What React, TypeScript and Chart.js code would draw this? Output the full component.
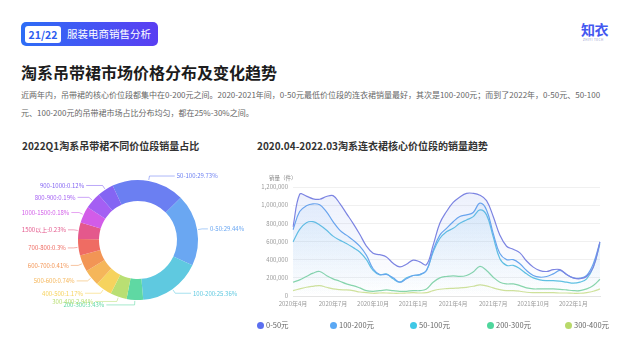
import React, { useEffect, useRef } from 'react';
import { Chart, registerables } from 'chart.js';
Chart.register(...registerables);

const FONT = "'Noto Sans CJK SC', 'Noto Sans', sans-serif";

// ---------- Donut data (2022Q1) ----------
const priceBands = ['50-100', '0-50', '100-200', '200-300', '300-400', '400-500', '500-600', '600-700', '700-800', '1500以上', '1000-1500', '800-900', '900-1000'];
const bandShares = [29.73, 29.44, 25.36, 3.43, 2.94, 1.17, 0.74, 0.41, 0.3, 0.23, 0.18, 0.19, 0.12];
const bandColors = ['#6b7ff2', '#6aa7f2', '#5fc9e0', '#5fd8a3', '#b9df73', '#f6d35e', '#f5b65a', '#f29555', '#ef6c63', '#e4588c', '#d25ce8', '#a45ff3', '#8465f3'];
const MIN_ANGLE = 16; // degrees, like a pie "minAngle" setting

// ---------- Line data (2020.04 - 2022.03, half-monthly) ----------
const categories = [
  '2020年4月', '2020年4月中', '2020年5月', '2020年5月中', '2020年6月', '2020年6月中', '2020年7月', '2020年7月中',
  '2020年8月', '2020年8月中', '2020年9月', '2020年9月中', '2020年10月', '2020年10月中', '2020年11月', '2020年11月中',
  '2020年12月', '2020年12月中', '2021年1月', '2021年1月中', '2021年2月', '2021年2月中', '2021年3月', '2021年3月中',
  '2021年4月', '2021年4月中', '2021年5月', '2021年5月中', '2021年6月', '2021年6月中', '2021年7月', '2021年7月中',
  '2021年8月', '2021年8月中', '2021年9月', '2021年9月中', '2021年10月', '2021年10月中', '2021年11月', '2021年11月中',
  '2021年12月', '2021年12月中', '2022年1月', '2022年1月中', '2022年2月', '2022年2月中', '2022年3月',
];
const tickLabels = ['2020年4月', '2020年7月', '2020年10月', '2021年1月', '2021年4月', '2021年7月', '2021年10月', '2022年1月'];

const sales0to50 = [760000, 1120000, 1100000, 1070000, 1065000, 1095000, 1105000, 1020000, 910000, 800000, 680000, 550000, 470000, 455000, 430000, 360000, 320000, 350000, 395000, 375000, 345000, 560000, 800000, 930000, 1030000, 1090000, 1130000, 1130000, 1110000, 1050000, 875000, 670000, 548000, 515000, 475000, 385000, 318000, 280000, 270000, 290000, 290000, 237000, 200000, 190000, 215000, 318000, 596000];
const sales100to200 = [730000, 930000, 993000, 1015000, 1004000, 930000, 818000, 726000, 670000, 615000, 548000, 448000, 300000, 237000, 237000, 200000, 152000, 189000, 226000, 237000, 281000, 504000, 670000, 745000, 818000, 875000, 893000, 920000, 1022000, 948000, 690000, 467000, 400000, 400000, 355000, 281000, 226000, 207000, 215000, 244000, 281000, 237000, 200000, 196000, 226000, 355000, 596000];
const sales50to100 = [596000, 733000, 807000, 818000, 781000, 726000, 659000, 615000, 578000, 533000, 485000, 400000, 281000, 233000, 244000, 189000, 152000, 200000, 226000, 233000, 281000, 485000, 633000, 707000, 745000, 800000, 837000, 874000, 948000, 893000, 652000, 411000, 337000, 337000, 300000, 244000, 200000, 178000, 170000, 170000, 163000, 152000, 141000, 152000, 189000, 318000, 578000];
const sales200to300 = [152000, 178000, 215000, 252000, 270000, 226000, 189000, 163000, 133000, 115000, 89000, 59000, 52000, 59000, 67000, 59000, 52000, 52000, 59000, 59000, 78000, 152000, 200000, 215000, 222000, 215000, 226000, 263000, 326000, 281000, 207000, 152000, 133000, 133000, 115000, 89000, 78000, 78000, 78000, 78000, 74000, 67000, 59000, 59000, 78000, 115000, 185000];
const sales300to400 = [59000, 78000, 96000, 107000, 115000, 96000, 78000, 70000, 67000, 59000, 44000, 37000, 30000, 33000, 33000, 30000, 30000, 33000, 37000, 33000, 37000, 59000, 74000, 81000, 85000, 89000, 96000, 107000, 122000, 111000, 89000, 70000, 59000, 59000, 52000, 41000, 37000, 37000, 37000, 37000, 33000, 33000, 30000, 30000, 37000, 52000, 78000];

const seriesNames = ['0-50元', '100-200元', '50-100元', '200-300元', '300-400元'];
const seriesData = [sales0to50, sales100to200, sales50to100, sales200to300, sales300to400];
const lineColors = ['#7c84e2', '#68a6ee', '#5fc2e2', '#88d6aa', '#d0e29a'];
const fillRGB = ['110,140,235', '100,170,240', '95,195,230', '120,214,170', '200,225,140'];
const fillAlpha = [0.13, 0.12, 0.1, 0.07, 0.05];
const legendColors = ['#5b6ff0', '#5aa8f4', '#3fc8e6', '#4fd69c', '#b8d96a'];

function displayAngles(values: number[], minAngle: number): number[] {
  const total = values.reduce((a, b) => a + b, 0);
  const raw = values.map((v) => (v / total) * 360);
  const small = raw.filter((a) => a < minAngle).length;
  const largeSum = values.filter((_, i) => raw[i] >= minAngle).reduce((a, b) => a + b, 0);
  const rest = 360 - small * minAngle;
  return values.map((v, i) => (raw[i] < minAngle ? minAngle : (rest * v) / largeSum));
}

const donutLabelPlugin = {
  id: 'donutLabels',
  afterDraw(chart: any) {
    const ctx = chart.ctx;
    const meta = chart.getDatasetMeta(0);
    ctx.save();
    ctx.font = `6px ${FONT}`;
    ctx.textBaseline = 'middle';
    ctx.lineWidth = 0.7;
    meta.data.forEach((arc: any, i: number) => {
      const p = arc.getProps(['x', 'y', 'startAngle', 'endAngle', 'outerRadius'], true);
      const mid = (p.startAngle + p.endAngle) / 2;
      const dx = Math.cos(mid);
      const dy = Math.sin(mid);
      const x1 = p.x + dx * (p.outerRadius + 1);
      const y1 = p.y + dy * (p.outerRadius + 1);
      const x2 = p.x + dx * (p.outerRadius + 5);
      const y2 = p.y + dy * (p.outerRadius + 5);
      const right = dx >= 0;
      const textX = right ? p.x + 31.5 + 41 * dx : p.x - 31.5 + 41 * dx;
      const color = bandColors[i];
      ctx.strokeStyle = color;
      ctx.globalAlpha = 0.8;
      ctx.beginPath();
      ctx.moveTo(x1, y1);
      ctx.lineTo(x2, y2);
      ctx.lineTo(right ? textX - 2 : textX + 2, y2);
      ctx.stroke();
      ctx.globalAlpha = 1;
      ctx.fillStyle = color;
      ctx.textAlign = right ? 'left' : 'right';
      ctx.fillText(`${priceBands[i]}:${bandShares[i]}%`, textX, y2);
    });
    ctx.restore();
  },
};

function DonutChart() {
  const ref = useRef<HTMLCanvasElement>(null);
  useEffect(() => {
    const chart = new Chart(ref.current!, {
      type: 'doughnut',
      data: {
        labels: priceBands,
        datasets: [{ data: displayAngles(bandShares, MIN_ANGLE), backgroundColor: bandColors, borderWidth: 0 }],
      },
      options: {
        responsive: false,
        animation: false,
        cutout: '65%',
        rotation: -25,
        layout: { padding: 20 },
        plugins: { legend: { display: false }, tooltip: { enabled: false } },
      },
      plugins: [donutLabelPlugin],
    } as any);
    return () => chart.destroy();
  }, []);
  return <canvas ref={ref} width={240} height={160} style={{ position: 'absolute', left: 18, top: 160, width: 240, height: 160 }} />;
}

function LineChart() {
  const ref = useRef<HTMLCanvasElement>(null);
  useEffect(() => {
    const datasets = seriesData.map((d, i) => ({
      label: seriesNames[i],
      data: d,
      borderColor: lineColors[i],
      borderWidth: 1.2,
      pointRadius: 0,
      tension: 0.4,
      fill: 'origin',
      backgroundColor: (c: any) => {
        const area = c.chart.chartArea;
        if (!area) return 'transparent';
        const g = c.chart.ctx.createLinearGradient(0, area.top, 0, area.bottom);
        g.addColorStop(0, `rgba(${fillRGB[i]},${fillAlpha[i]})`);
        g.addColorStop(1, `rgba(${fillRGB[i]},0)`);
        return g;
      },
    }));
    const chart = new Chart(ref.current!, {
      type: 'line',
      data: { labels: categories, datasets },
      options: {
        responsive: false,
        animation: false,
        layout: { padding: { left: 0, right: 40, top: 17, bottom: 0 } },
        plugins: { legend: { display: false }, tooltip: { enabled: false } },
        scales: {
          x: {
            grid: { display: false, drawTicks: false },
            border: { display: true, color: '#e4e4e4' },
            ticks: {
              autoSkip: false,
              maxRotation: 0,
              minRotation: 0,
              padding: 4,
              color: '#9a9a9a',
              font: { size: 6, family: FONT },
              callback: (_v: any, idx: number) => (tickLabels.includes(categories[idx]) ? categories[idx] : ''),
            },
            afterFit: (s: any) => { s.height = 14; },
          },
          y: {
            min: 0,
            max: 1200000,
            grid: { color: '#f0f0f0', drawTicks: false },
            border: { display: false },
            ticks: {
              stepSize: 200000,
              padding: 5,
              color: '#9a9a9a',
              font: { size: 6, family: FONT },
              callback: (v: any) => Number(v).toLocaleString('en-US'),
            },
            afterFit: (s: any) => { s.width = 53; },
          },
        },
      },
    } as any);
    return () => chart.destroy();
  }, []);
  return <canvas ref={ref} width={400} height={140} style={{ position: 'absolute', left: 240, top: 170, width: 400, height: 140 }} />;
}

const legendX = [260, 333, 413, 490, 568];

export default function App() {
  return (
    <div style={{ position: 'absolute', left: 0, top: 0, width: 640, height: 360, background: '#fff', overflow: 'hidden', fontFamily: FONT }}>
      <div style={{ position: 'absolute', left: 21, top: 22, width: 137, height: 24, borderRadius: 5, background: 'linear-gradient(90deg,#2d6df6,#5a3ef2)' }}>
        <div style={{ position: 'absolute', left: 4, top: 3.5, width: 36, height: 17.5, background: '#fff', borderRadius: 3, color: '#2c5df0', fontWeight: 700, fontSize: 10.5, lineHeight: '17.5px', textAlign: 'center' }}>21/22</div>
        <div style={{ position: 'absolute', left: 46, top: 0, lineHeight: '24px', color: '#fff', fontSize: 10.5, whiteSpace: 'nowrap' }}>服装电商销售分析</div>
      </div>
      <div style={{ position: 'absolute', left: 581, top: 20, fontSize: 14, fontWeight: 700, lineHeight: '18px', color: '#4458f0', letterSpacing: -0.5 }}>知衣</div>
      <div style={{ position: 'absolute', left: 583, top: 38, fontSize: 3, lineHeight: '4px', color: '#8a93c8', letterSpacing: 0.5 }}>ZHIYI TECH</div>

      <div style={{ position: 'absolute', left: 21, top: 62, fontSize: 16, fontWeight: 700, lineHeight: '21px', color: '#1c1c1c', whiteSpace: 'nowrap' }}>淘系吊带裙市场价格分布及变化趋势</div>
      <div style={{ position: 'absolute', left: 21, top: 86, fontSize: 8, lineHeight: '17.7px', color: '#666', whiteSpace: 'nowrap' }}>
        近两年内，吊带裙的核心价位段都集中在0-200元之间。2020-2021年间，0-50元最低价位段的连衣裙销量最好，其次是100-200元；而到了2022年，0-50元、50-100
        <br />
        元、100-200元的吊带裙市场占比分布均匀，都在25%-30%之间。
      </div>

      <div style={{ position: 'absolute', left: 22, top: 139, fontSize: 10, fontWeight: 700, lineHeight: '14px', color: '#333', whiteSpace: 'nowrap' }}>2022Q1淘系吊带裙不同价位段销量占比</div>
      <div style={{ position: 'absolute', left: 257, top: 139, fontSize: 10, fontWeight: 700, lineHeight: '14px', color: '#333', whiteSpace: 'nowrap' }}>2020.04-2022.03淘系连衣裙核心价位段的销量趋势</div>

      <DonutChart />
      <LineChart />
      <div style={{ position: 'absolute', left: 269, top: 174, fontSize: 5.5, lineHeight: '8px', color: '#888', whiteSpace: 'nowrap' }}>销量（件）</div>

      {seriesNames.map((name, i) => (
        <div key={name}>
          <div style={{ position: 'absolute', left: legendX[i] - 3.5, top: 321.5, width: 7, height: 7, borderRadius: '50%', background: legendColors[i] }} />
          <div style={{ position: 'absolute', left: legendX[i] + 6, top: 320, fontSize: 7.5, lineHeight: '10px', color: '#666', whiteSpace: 'nowrap' }}>{name}</div>
        </div>
      ))}
    </div>
  );
}
